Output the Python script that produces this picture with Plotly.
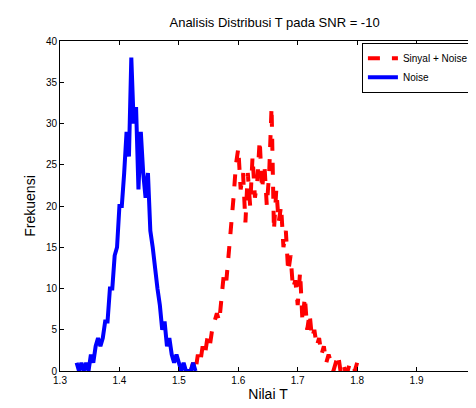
import plotly.graph_objects as go

# Noise histogram
noise_x = [round(1.328 + 0.004 * i, 3) for i in range(51)]
noise_y = [1, 0, 1, 0, 1, 0, 2, 1, 3, 4, 3, 4, 6,
           6, 10, 10, 14, 15,
           20, 20, 24, 29, 26,
           38,
           30, 32, 22, 29, 24,
           21, 24, 17, 15, 12,
           10, 8, 5, 6, 3,
           4, 2, 1, 2, 1,
           0, 1, 0, 0, 0, 1, 0]

# Signal + noise histogram
sn_x = [round(1.52 + 0.004 * i, 3) for i in range(71)]
sn_y = [0, 1, 0, 2, 1, 3, 2, 4, 3, 5,
        6, 7, 6, 9, 12, 11, 14, 17, 21, 25,
        27, 22, 24, 18, 24, 20, 26, 21, 23, 28,
        22, 25, 20, 24, 32, 17, 22, 18, 20, 15,
        17, 12, 14, 10, 11, 8, 12, 6, 9, 5,
        7, 4, 5, 3, 4, 2, 3, 1, 2, 1,
        0, 1, 2, 0, 1, 0, 0, 1, 0, 0, 1]

fig = go.Figure()
fig.add_trace(go.Scatter(x=sn_x, y=sn_y, mode='lines', name='Sinyal + Noise',
                         line=dict(color='#ff0000', width=4, dash='dash')))
fig.add_trace(go.Scatter(x=noise_x, y=noise_y, mode='lines', name='Noise',
                         line=dict(color='#0000ff', width=4)))

axis = dict(showgrid=False, zeroline=False, showline=True, mirror='ticks',
            linecolor='black', linewidth=1, ticks='inside', ticklen=4,
            tickcolor='black', tickfont=dict(size=10, color='black'))

fig.update_layout(
    width=476, height=408,
    paper_bgcolor='white', plot_bgcolor='white',
    font=dict(family='Liberation Sans, Arial', color='black'),
    title=dict(text='Analisis Distribusi T pada SNR = -10', x=0.56, xanchor='center',
               y=0.975, font=dict(size=13)),
    margin=dict(l=52, r=5, t=33, b=45),
    xaxis=dict(axis, range=[1.3, 2], dtick=0.1,
               title=dict(text='Nilai T', font=dict(size=14), standoff=4)),
    yaxis=dict(axis, range=[0, 40], dtick=5,
               title=dict(text='Frekuensi', font=dict(size=14), standoff=6)),
    legend=dict(x=0.995, y=0.995, xanchor='right', yanchor='top',
                bordercolor='black', borderwidth=1, bgcolor='white',
                font=dict(size=10), tracegroupgap=0),
    showlegend=True,
)

fig.write_html("out.html")
